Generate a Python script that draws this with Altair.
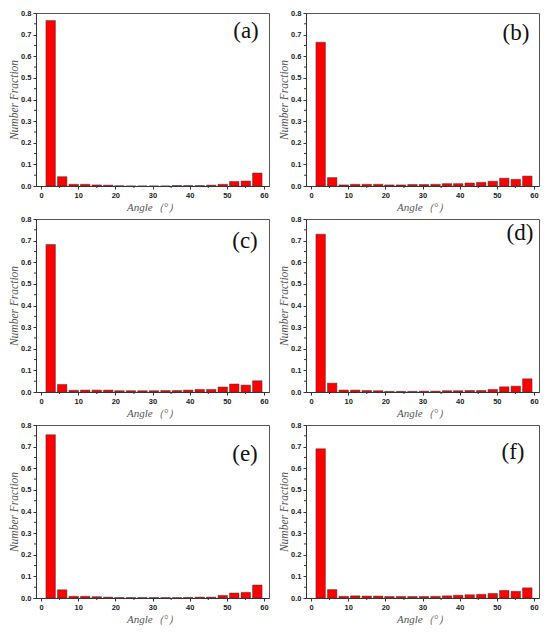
import altair as alt
import pandas as pd

# Bin centres of the angle histogram (degrees)
angles = [2.6, 5.7, 8.8, 11.9, 15.0, 18.1, 21.1, 24.2, 27.3, 30.4,
          33.5, 36.6, 39.6, 42.7, 45.8, 48.9, 52.0, 55.1, 58.2]

frac_a = [0.765, 0.043, 0.008, 0.008, 0.005, 0.004, 0.001, 0.0, 0.0, 0.0,
          0.0, 0.002, 0.002, 0.002, 0.004, 0.008, 0.021, 0.023, 0.060]
frac_b = [0.665, 0.039, 0.005, 0.008, 0.008, 0.008, 0.005, 0.005, 0.007, 0.007,
          0.008, 0.011, 0.011, 0.014, 0.017, 0.022, 0.036, 0.031, 0.046]
frac_c = [0.682, 0.035, 0.008, 0.009, 0.009, 0.009, 0.006, 0.006, 0.006, 0.006,
          0.007, 0.007, 0.009, 0.012, 0.012, 0.023, 0.037, 0.032, 0.052]
frac_d = [0.730, 0.041, 0.009, 0.009, 0.007, 0.006, 0.003, 0.003, 0.003, 0.004,
          0.004, 0.006, 0.006, 0.007, 0.007, 0.012, 0.024, 0.027, 0.061]
frac_e = [0.755, 0.038, 0.008, 0.008, 0.006, 0.004, 0.002, 0.002, 0.002, 0.002,
          0.002, 0.002, 0.003, 0.004, 0.004, 0.012, 0.023, 0.026, 0.060]
frac_f = [0.690, 0.039, 0.008, 0.010, 0.009, 0.009, 0.007, 0.007, 0.007, 0.007,
          0.008, 0.010, 0.013, 0.015, 0.017, 0.021, 0.035, 0.031, 0.047]

panel_labels = ["(a)", "(b)", "(c)", "(d)", "(e)", "(f)"]
x_ticks = [0, 10, 20, 30, 40, 50, 60]
y_ticks = [0.0, 0.1, 0.2, 0.3, 0.4, 0.5, 0.6, 0.7, 0.8]
x_minor = [5, 15, 25, 35, 45, 55]
y_minor = [0.05, 0.15, 0.25, 0.35, 0.45, 0.55, 0.65, 0.75]

W, H = 233, 173
# label centre positions inside each panel (pixels from plot's top-left)
label_pos = [(210, 18), (210, 20), (209, 22), (214, 14), (209, 29), (207, 27)]

serif = "Liberation Serif"
sans = "Liberation Sans"

x_scale = alt.Scale(domain=[0, 60], nice=False)
y_scale = alt.Scale(domain=[0, 0.8], nice=False)
x_axis = alt.Axis(values=x_ticks, title="Angle（°）")
y_axis = alt.Axis(values=y_ticks, format=".1f", title="Number Fraction")


def panel(values, label, pos):
    df = pd.DataFrame({"angle": angles, "fraction": values})
    bars = alt.Chart(df).mark_bar(
        size=9.5, color="#ff0000", stroke="#3a3a3a", strokeWidth=0.5
    ).encode(
        x=alt.X("angle:Q", scale=x_scale, axis=x_axis),
        y=alt.Y("fraction:Q", scale=y_scale, axis=y_axis),
    )
    ym = alt.Chart(pd.DataFrame({"m": y_minor})).mark_rule(
        color="#333333", strokeWidth=1
    ).encode(
        y=alt.Y("m:Q", scale=y_scale, axis=y_axis), x=alt.value(-2), x2=alt.value(0)
    )
    xm = alt.Chart(pd.DataFrame({"m": x_minor})).mark_rule(
        color="#333333", strokeWidth=1
    ).encode(
        x=alt.X("m:Q", scale=x_scale, axis=x_axis), y=alt.value(H), y2=alt.value(H + 2)
    )
    txt = alt.Chart(df).mark_text(
        font=serif, fontSize=23, color="#111", align="center", baseline="middle"
    ).encode(
        x=alt.value(pos[0]), y=alt.value(pos[1]), text=alt.value(label)
    ).transform_filter("datum.angle < 3")
    return alt.layer(bars, ym, xm, txt).properties(width=W, height=H)


fracs = [frac_a, frac_b, frac_c, frac_d, frac_e, frac_f]
panels = [panel(fracs[i], panel_labels[i], label_pos[i]) for i in range(6)]

chart = alt.concat(
    *panels, columns=2, spacing={"row": 33, "column": 37}, bounds="flush"
).properties(
    padding={"left": 0, "top": 0, "right": 2, "bottom": 1}
).configure_view(
    stroke="#555555", strokeWidth=1
).configure_axis(
    domainColor="#333333", tickColor="#333333", tickSize=3,
    labelFont=sans, labelFontSize=7.5, labelFontWeight="bold", labelColor="#222222",
    labelPadding=2, grid=False,
    titleFont=serif, titleFontStyle="italic", titleFontWeight="normal",
    titleColor="#555555",
).configure_axisX(
    titlePadding=3, titleFontSize=11
).configure_axisY(
    titlePadding=1, titleFontSize=11.5
)

chart.save("out.html", embed_options={"renderer": "svg", "actions": False})
